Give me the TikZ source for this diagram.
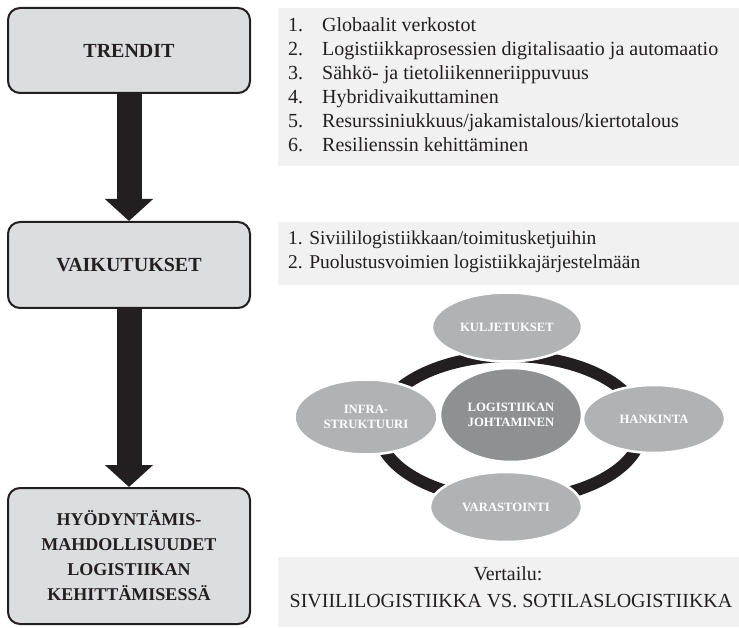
\documentclass[tikz,border=0pt]{standalone}
\usepackage{fontspec}
\setmainfont{Liberation Serif}
\usetikzlibrary{shapes.geometric,arrows.meta}
\definecolor{ink}{HTML}{231F20}
\definecolor{boxfill}{HTML}{DCDDDE}
\definecolor{listbg}{HTML}{F1F1F2}
\definecolor{ellfill}{HTML}{B1B2B4}
\definecolor{ctrfill}{HTML}{8F9092}
\tikzset{
  bigbox/.style={draw=ink, line width=2pt, fill=boxfill, rounded corners=12pt,
    minimum width=242pt, inner sep=0pt, align=center, text=ink,
    font=\fontsize{20}{25}\selectfont\bfseries},
  bigarrow/.style={draw=ink, line width=25pt, -{Triangle[width=47pt,length=22pt]}},
  listtext/.style={anchor=base west, inner sep=0pt, text=ink, font=\fontsize{20}{24}\selectfont},
  ell/.style={ellipse, draw=white, line width=2.5pt, fill=ellfill, inner sep=0pt,
    align=center, text=white, font=\fontsize{12.7}{14.5}\selectfont\bfseries},
}
\begin{document}
\begin{tikzpicture}[x=1pt,y=-1pt]
\useasboundingbox (0,0) rectangle (739,628);
% left boxes
\node[bigbox, minimum height=85pt] (b1) at (129,50.5) {TRENDIT};
\node[bigbox, minimum height=86pt] (b2) at (129,265) {VAIKUTUKSET};
\node[bigbox, minimum height=136pt, font=\fontsize{18}{25}\selectfont\bfseries] (b3) at (129,556) {HYÖDYNTÄMIS-\\MAHDOLLISUUDET\\LOGISTIIKAN\\KEHITTÄMISESSÄ};
\draw[bigarrow] (b1.south) -- (b2.north);
\draw[bigarrow] (b2.south) -- (b3.north);
% list 1
\fill[listbg] (278,8) rectangle (739,166);
\foreach \i/\t in {1/{Globaalit verkostot},
  2/{Logistiikkaprosessien digitalisaatio ja automaatio},
  3/{Sähkö- ja tietoliikenneriippuvuus},
  4/{Hybridivaikuttaminen},
  5/{Resurssiniukkuus/jakamistalous/kiertotalous},
  6/{Resilienssin kehittäminen}}{
  \node[listtext] (t\i) at (288,{32+24*(\i-1)}) {\makebox[34pt][l]{\i.}\t};
}
% list 2
\fill[listbg] (278,222) rectangle (739,285);
\node[listtext, font=\fontsize{19.5}{24}\selectfont] (v1) at (288,245) {1. Siviililogistiikkaan/toimitusketjuihin};
\node[listtext, font=\fontsize{19.5}{24}\selectfont] (v2) at (288,269) {2. Puolustusvoimien logistiikkajärjestelmään};
% cycle
\coordinate (ring) at (510,428);
\draw[ink, line width=12pt] (ring) ellipse [x radius=132pt, y radius=72pt];
\node[ell, minimum width=150pt, minimum height=69pt] (kul) at (507,327) {KULJETUKSET};
\node[ell, minimum width=142pt, minimum height=68pt] (han) at (654,419) {HANKINTA};
\node[ell, minimum width=152pt, minimum height=70pt] (var) at (506,507) {VARASTOINTI};
\node[ell, minimum width=143pt, minimum height=75pt] (inf) at (366,417) {INFRA-\\STRUKTUURI};
\node[ell, fill=ctrfill, minimum width=142pt, minimum height=94pt] (ctr) at (511,415) {LOGISTIIKAN\\JOHTAMINEN};
% comparison
\fill[listbg] (278,557) rectangle (739,627);
\node[anchor=base, inner sep=0pt, text=ink, font=\fontsize{20}{24}\selectfont] (c1) at (508,580) {Vertailu:};
\node[anchor=base, inner sep=0pt, text=ink, font=\fontsize{20}{24}\selectfont] (c2) at (511,607) {SIVIILILOGISTIIKKA VS. SOTILASLOGISTIIKKA};
\end{tikzpicture}
\end{document}
